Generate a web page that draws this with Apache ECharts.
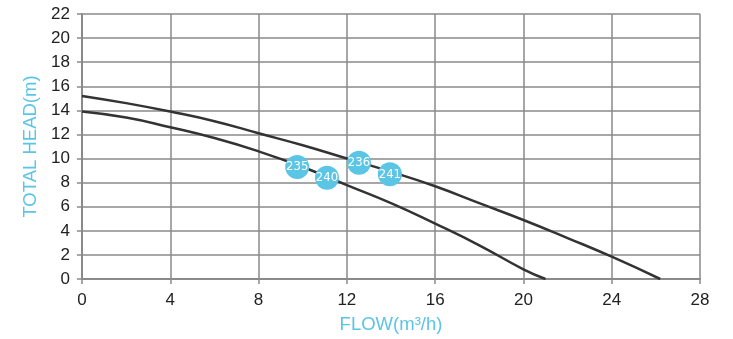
<!DOCTYPE html>
<html>
<head>
<meta charset="utf-8">
<script src="https://cdn.jsdelivr.net/npm/echarts@6/dist/echarts.min.js"></script>
<style>
  html, body { margin: 0; padding: 0; background: #fff; }
  #chart { width: 733px; height: 339px; }
</style>
</head>
<body>
<div id="chart"></div>
<script>
// pump curves, flow (m3/h) vs head (m)
const curveLow = [
  [0, 13.9], [2, 13.4], [4, 12.6], [6, 11.7], [8, 10.6], [10, 9.3],
  [12, 7.8], [14, 6.3], [16, 4.6], [18, 2.8], [20, 0.8], [21, 0]
];
const curveHigh = [
  [0, 15.2], [2, 14.6], [4, 13.9], [6, 13.1], [8, 12.1], [10, 11.1],
  [12, 10.0], [14, 8.9], [16, 7.7], [18, 6.3], [20, 4.9], [22, 3.4],
  [24, 1.85], [26.2, 0]
];
// model badges
const badges = [
  [9.75, 9.3, "235"],
  [11.1, 8.4, "240"],
  [12.55, 9.65, "236"],
  [13.95, 8.7, "241"]
];

const gridColor = "#8a8a8a";
const blue = "#5bc5e5";
const font = "'Liberation Sans', Arial, sans-serif";
const narrow = "'DejaVu Sans Condensed', 'Liberation Sans', sans-serif";

const myChart = echarts.init(document.getElementById("chart"));
myChart.setOption({
  animation: false,
  grid: { left: 82, right: 33, top: 14, bottom: 60 },
  xAxis: {
    type: "value",
    min: 0,
    max: 28,
    interval: 4,
    name: "FLOW(m³/h)",
    nameLocation: "middle",
    nameGap: 36,
    nameTextStyle: { color: blue, fontSize: 18.5, fontFamily: font },
    axisLine: { show: true, lineStyle: { color: gridColor, width: 2 } },
    axisTick: { show: true, length: 5, lineStyle: { color: gridColor, width: 1.5 } },
    axisLabel: { color: "#222", fontSize: 17, margin: 13, fontFamily: font },
    splitLine: { show: true, lineStyle: { color: gridColor, width: 1.5 } }
  },
  yAxis: {
    type: "value",
    min: 0,
    max: 22,
    interval: 2,
    name: "TOTAL HEAD(m)",
    nameLocation: "middle",
    nameGap: 40,
    nameTextStyle: { color: blue, fontSize: 18.5, fontFamily: font },
    axisLine: { show: true, lineStyle: { color: gridColor, width: 2 } },
    axisTick: { show: true, length: 5, lineStyle: { color: gridColor, width: 1.5 } },
    axisLabel: { color: "#222", fontSize: 17, margin: 12, fontFamily: font },
    splitLine: { show: true, lineStyle: { color: gridColor, width: 1.5 } }
  },
  series: [
    {
      type: "line",
      data: curveLow,
      smooth: true,
      symbol: "none",
      lineStyle: { color: "#333", width: 2.5 }
    },
    {
      type: "line",
      data: curveHigh,
      smooth: true,
      symbol: "none",
      lineStyle: { color: "#333", width: 2.5 }
    },
    {
      type: "scatter",
      data: badges,
      symbolSize: 24,
      itemStyle: { color: blue, opacity: 1 },
      label: {
        show: true,
        position: "inside",
        formatter: (p) => p.value[2],
        color: "#fff",
        fontSize: 13,
        fontFamily: narrow
      },
      z: 5
    }
  ]
});
</script>
</body>
</html>
